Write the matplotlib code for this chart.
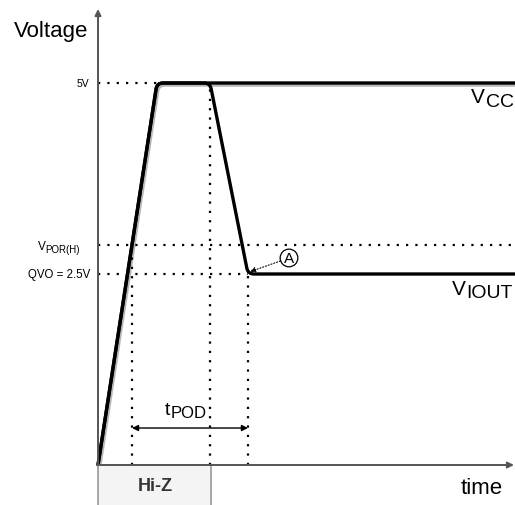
import matplotlib
matplotlib.use("Agg")
import numpy as np
import matplotlib.pyplot as plt
import matplotlib.patheffects as pe
from matplotlib.patches import Rectangle, PathPatch
from matplotlib.path import Path
from matplotlib.transforms import IdentityTransform

plt.rcParams['font.family'] = ['Liberation Sans', 'DejaVu Sans']

# levels (V)
v_cc = 5.0
v_qvo = 2.5
v_por = 2.88

# times (arbitrary units)
t_por = 34       # ramp crosses VPOR(H)
t_ramp = 59      # ramp reaches 5V
t_fall = 112     # output starts to fall
t_settle = 150   # output settles at QVO
t_end = 420

vcc_t = [0, t_ramp, t_end]
vcc_v = [0, v_cc, v_cc]
iout_t = [0, t_ramp, t_fall, t_settle, t_end]
iout_v = [0, v_cc, v_cc, v_qvo, v_qvo]

fig = plt.figure(figsize=(5.15, 5.06), dpi=100)
ax = fig.add_axes([0, 0, 1, 1])
ax.set_xlim(-98, 417)
ax.set_ylim(-40 / 76.4, 466 / 76.4)
ax.axis('off')


def rounded(xs, ys, r=6):
    # polyline with rounded corners, built in pixel space
    p = ax.transData.transform(np.column_stack([xs, ys]))
    verts, codes = [p[0]], [Path.MOVETO]
    for i in range(1, len(p) - 1):
        a, b, c = p[i - 1], p[i], p[i + 1]
        la, lc = np.hypot(*(a - b)), np.hypot(*(c - b))
        verts += [b + (a - b) / la * min(r, la / 2), b, b + (c - b) / lc * min(r, lc / 2)]
        codes += [Path.LINETO, Path.CURVE3, Path.CURVE3]
    verts.append(p[-1])
    codes.append(Path.LINETO)
    return Path(verts, codes)


dot = dict(color='black', lw=1.6, ls=(0, (1, 3.2)))

# guide lines
ax.plot([0, t_ramp], [v_cc, v_cc], **dot)
ax.plot([0, t_end], [v_por, v_por], **dot)
ax.plot([0, t_settle], [v_qvo, v_qvo], **dot)
ax.plot([t_por, t_por], [0, v_por], **dot)
ax.plot([t_fall, t_fall], [0, v_cc], **dot)
ax.plot([t_settle, t_settle], [0, v_qvo], **dot)

# axes
ax.annotate('', xy=(0, 456 / 76.4), xytext=(0, 0),
            arrowprops=dict(arrowstyle='-|>', color='#555555', lw=1.4,
                            mutation_scale=9, shrinkA=0, shrinkB=0))
ax.annotate('', xy=(416, 0), xytext=(0, 0),
            arrowprops=dict(arrowstyle='-|>', color='#555555', lw=1.4,
                            mutation_scale=9, shrinkA=0, shrinkB=0))

# signals
ax.add_patch(PathPatch(rounded(vcc_t, vcc_v), transform=IdentityTransform(),
                       fill=False, ec='black', lw=2.4, joinstyle='round',
                       path_effects=[pe.SimpleLineShadow(offset=(1.2, -1.5), shadow_color='#999999',
                                                         alpha=0.7),
                                     pe.Normal()]))
ax.add_patch(PathPatch(rounded(iout_t, iout_v), transform=IdentityTransform(),
                       fill=False, ec='black', lw=2.4, joinstyle='round', capstyle='round'))

# tPOD
ax.annotate('', xy=(t_settle, 0.484), xytext=(t_por, 0.484),
            arrowprops=dict(arrowstyle='<|-|>', color='black', lw=1.0,
                            mutation_scale=9, shrinkA=0, shrinkB=0))
tt = ax.text(67, 0.67, 't', fontsize=14, ha='left', va='baseline')
ax.annotate('POD', xy=(1, 0), xycoords=tt, xytext=(0.3, -1.5), textcoords='offset points',
            fontsize=12, ha='left', va='bottom')

# annotation A
ax.annotate('A', xy=(t_settle + 2, v_qvo + 0.03), xytext=(191, 2.71),
            fontsize=11, ha='center', va='center',
            bbox=dict(boxstyle='circle,pad=0.12', fc='white', ec='black', lw=0.9),
            arrowprops=dict(arrowstyle='-|>', color='black', lw=0.8, ls=':',
                            mutation_scale=8, shrinkA=0, shrinkB=0))

# Hi-Z box
ax.add_patch(Rectangle((0, -1), 113, 1, fc='#f3f4f3', ec='#999999', lw=1.2))
ax.text(57, -0.27, 'Hi-Z', fontsize=13, fontweight='bold', color='#333333',
        ha='center', va='center')

# labels
ax.text(-10, 5.69, 'Voltage', fontsize=16, ha='right', va='center')
ax.text(-9, v_cc, '5V', fontsize=7.5, ha='right', va='center')
ax.text(-8, v_qvo, 'QVO = 2.5V', fontsize=8.3, ha='right', va='center')
sp = ax.text(-18, v_por - 0.09, 'POR(H)', fontsize=7, ha='right', va='baseline')
ax.annotate('V', xy=(0, 0), xycoords=sp, xytext=(0, 1.5), textcoords='offset points',
            fontsize=8.5, ha='right', va='bottom')

vc = ax.text(373, 4.75, 'V', fontsize=15, ha='left', va='baseline')
ax.annotate('CC', xy=(1, 0), xycoords=vc, xytext=(0.5, -2.5), textcoords='offset points',
            fontsize=14, ha='left', va='bottom')
vi = ax.text(354, 2.24, 'V', fontsize=15, ha='left', va='baseline')
ax.annotate('IOUT', xy=(1, 0), xycoords=vi, xytext=(0.5, -2.5), textcoords='offset points',
            fontsize=14, ha='left', va='bottom')
ax.text(405, -0.29, 'time', fontsize=16, ha='right', va='center')

fig.savefig('out.png', dpi=100)
